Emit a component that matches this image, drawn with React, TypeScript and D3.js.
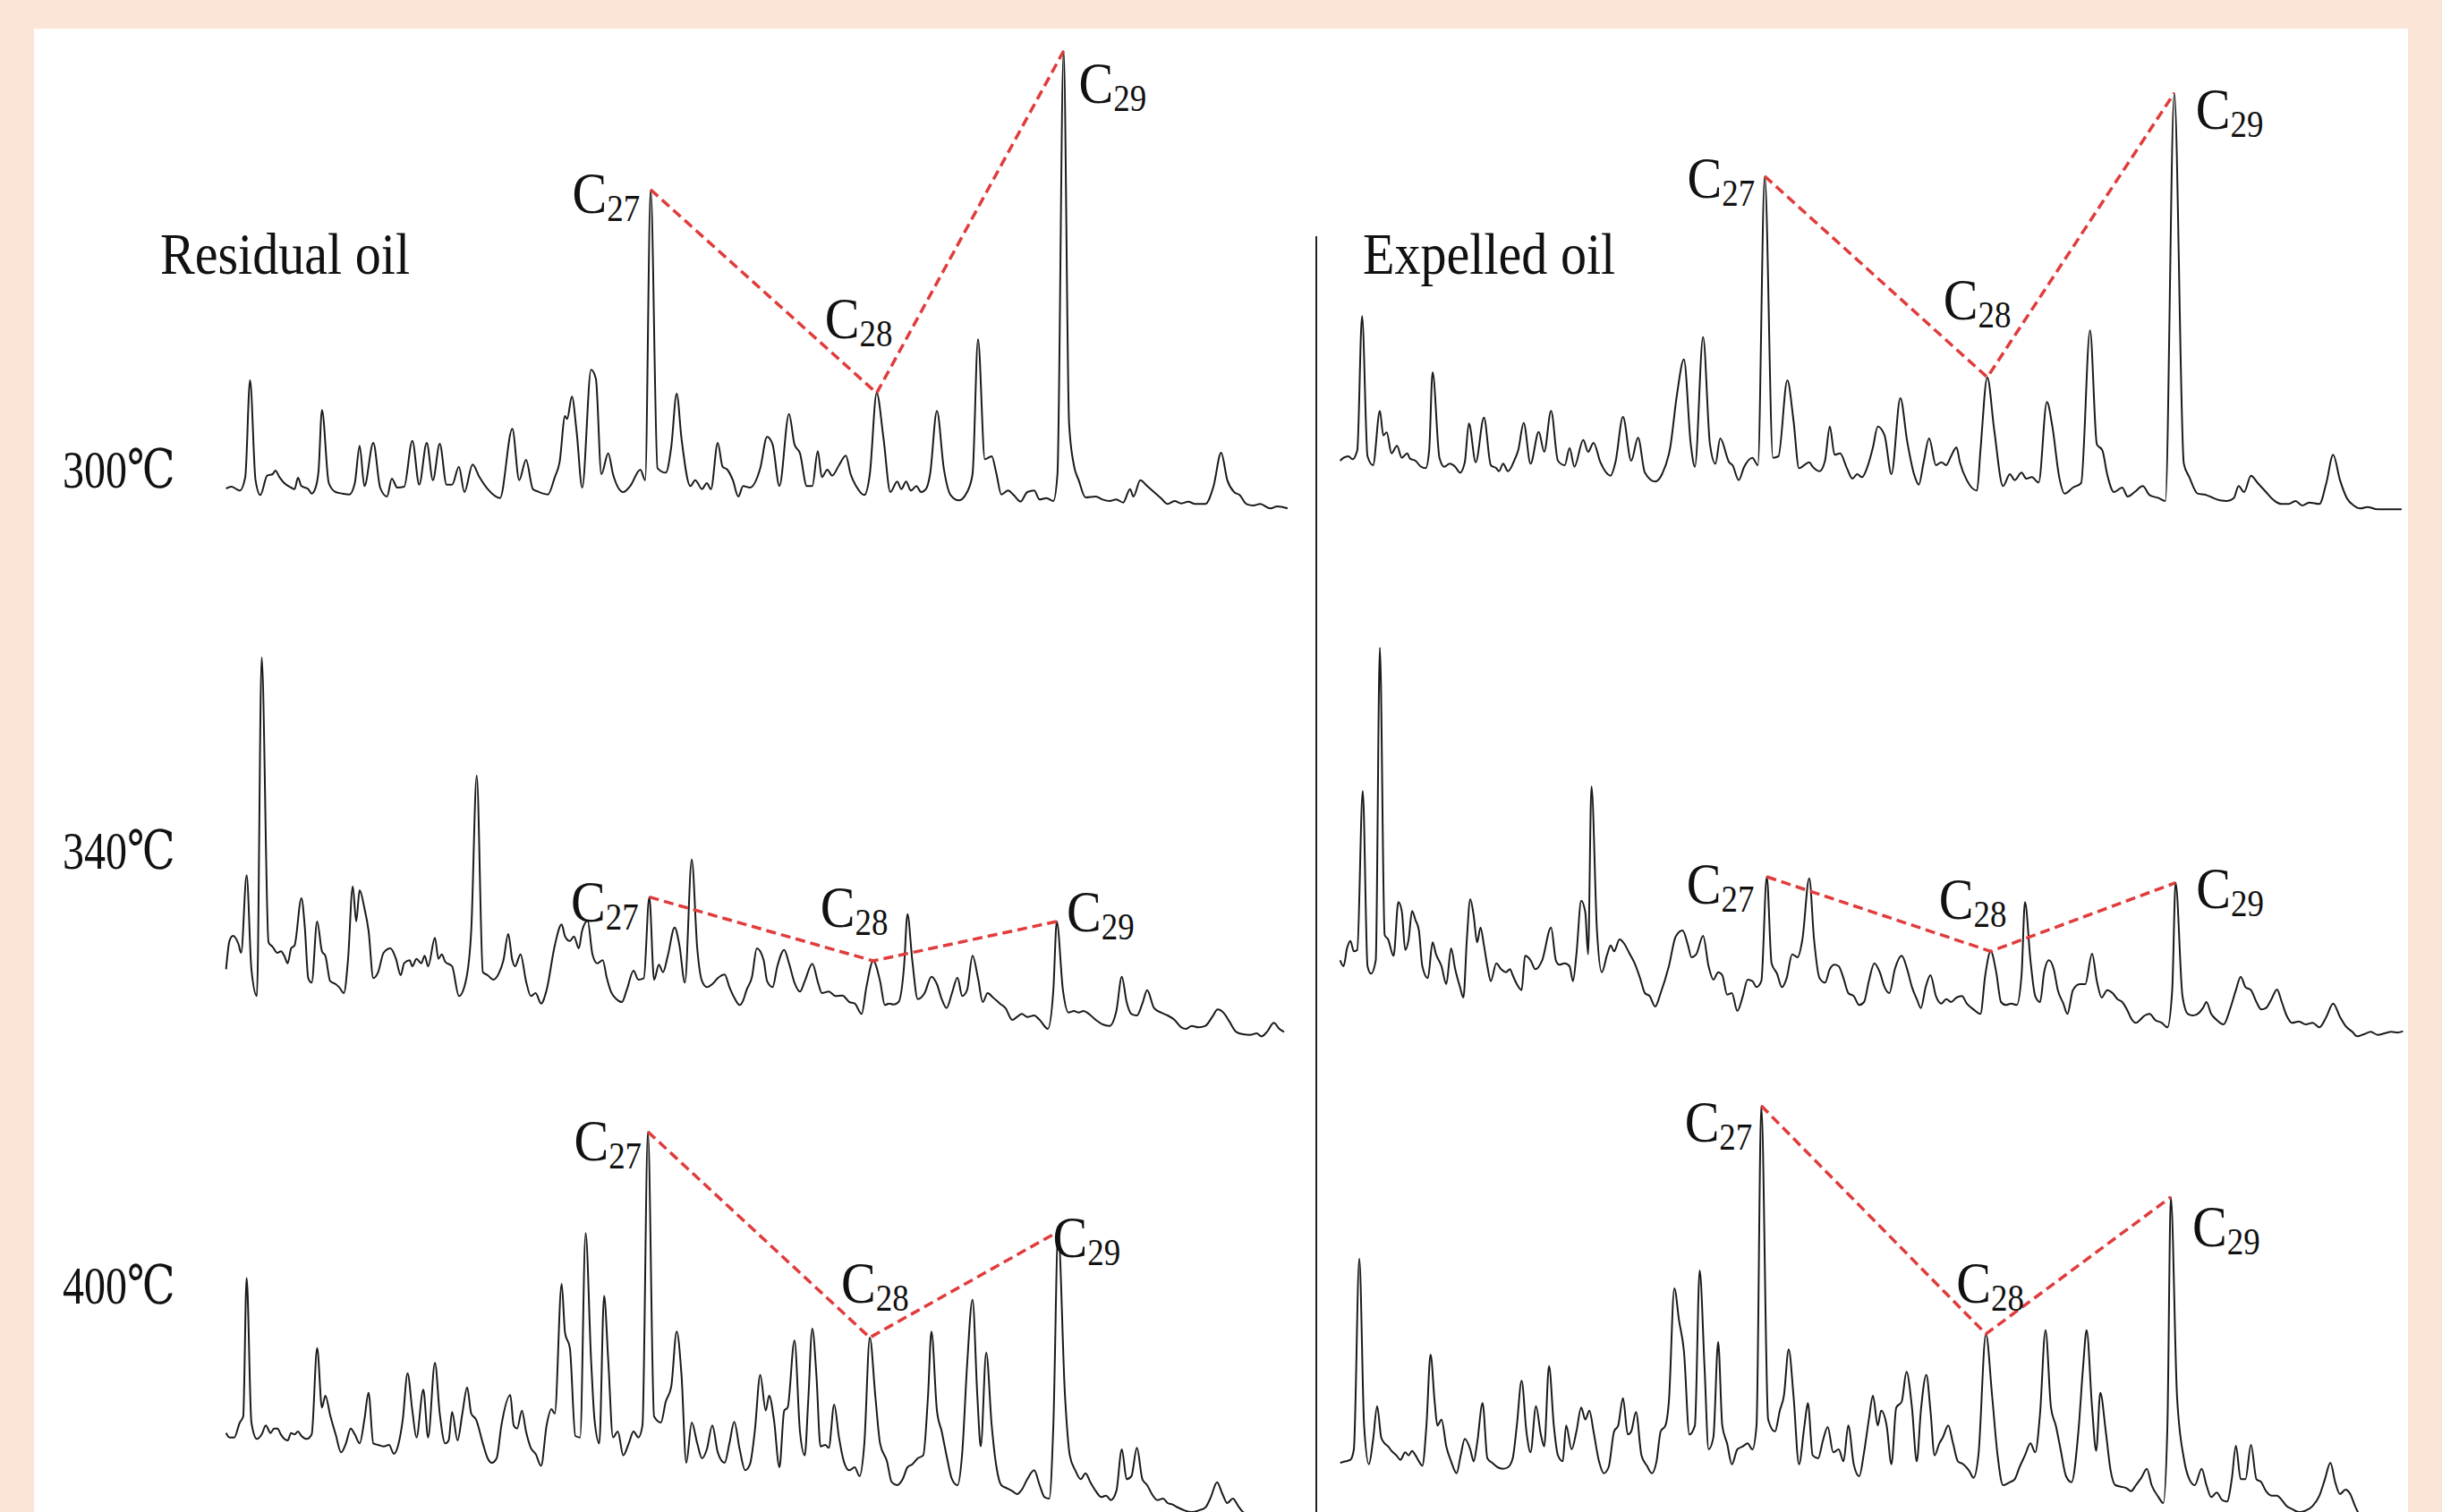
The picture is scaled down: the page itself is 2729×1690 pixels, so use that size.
import React, { useEffect } from 'react';
import * as d3 from 'd3';

type Pt = [number, number]; // [scan number, abundance]

// ---------- Chromatogram data (m/z 217 style traces) ----------
const residual300: Pt[] = [[10,102],[18,108],[25,100],[30,95],[38,140],[45,465],[53,130],[60,80],[70,145],[78,150],[82,162],[88,140],[95,120],[105,105],[110,100],[115,138],[120,110],[130,100],[135,85],[140,100],[145,160],[150,365],[160,120],[170,90],[180,85],[190,82],[198,120],[205,245],[212,110],[225,255],[235,105],[245,75],[252,135],[260,105],[270,108],[282,262],[292,115],[303,255],[312,130],[322,252],[332,115],[340,115],[350,175],[358,90],[370,182],[380,140],[392,100],[410,70],[428,302],[438,130],[448,198],[458,100],[465,92],[480,82],[490,140],[497,190],[505,345],[508,335],[515,410],[522,290],[530,105],[543,500],[550,470],[558,150],[568,220],[575,150],[590,90],[600,110],[615,165],[622,130],[630,1104],[640,170],[652,155],[660,240],[668,420],[675,270],[688,110],[695,130],[705,100],[712,120],[718,100],[728,255],[735,175],[742,165],[750,130],[758,75],[765,110],[775,105],[790,170],[800,275],[808,250],[818,110],[832,352],[840,250],[848,220],[858,110],[866,110],[874,227],[880,140],[888,165],[895,145],[905,180],[915,212],[922,150],[930,110],[942,80],[950,150],[960,422],[970,270],[980,90],[990,125],[996,100],[1003,125],[1010,95],[1018,110],[1025,90],[1032,100],[1038,150],[1048,362],[1058,170],[1068,80],[1080,62],[1092,90],[1100,150],[1108,602],[1118,200],[1128,210],[1135,150],[1142,82],[1152,95],[1160,80],[1170,58],[1180,90],[1190,95],[1198,65],[1208,70],[1218,60],[1224,150],[1233,1569],[1241,320],[1248,180],[1255,130],[1265,72],[1280,75],[1290,65],[1300,60],[1310,65],[1320,55],[1330,100],[1335,75],[1345,130],[1355,110],[1365,90],[1375,70],[1385,50],[1395,60],[1405,52],[1415,58],[1425,50],[1440,50],[1452,110],[1463,222],[1472,130],[1482,90],[1490,80],[1500,50],[1510,45],[1520,50],[1535,35],[1545,42],[1560,35]];

const expelled300: Pt[] = [[10,195],[15,205],[22,210],[28,200],[35,230],[42,680],[50,210],[58,180],[68,362],[73,280],[78,290],[85,220],[93,245],[100,205],[108,220],[112,202],[120,195],[128,175],[135,170],[140,230],[145,492],[155,205],[162,175],[170,185],[178,175],[185,155],[192,190],[198,320],[208,190],[220,340],[230,180],[238,170],[242,160],[248,185],[255,160],[265,200],[270,230],[278,322],[288,185],[300,292],[308,225],[318,362],[328,195],[338,180],[345,238],[352,175],[365,265],[372,225],[380,255],[390,190],[405,145],[412,190],[423,342],[435,195],[445,272],[455,155],[470,125],[480,150],[492,240],[502,420],[512,535],[522,250],[528,175],[540,610],[550,250],[558,185],[565,270],[578,190],[583,180],[592,130],[600,175],[612,205],[620,180],[630,1149],[642,205],[650,210],[663,465],[672,330],[680,170],[695,190],[700,175],[710,160],[718,195],[725,310],[732,215],[740,220],[750,170],[758,135],[765,150],[772,140],[780,175],[788,240],[795,310],[805,280],[815,150],[828,405],[838,260],[848,150],[855,115],[862,190],[870,270],[880,180],[888,190],[895,180],[902,210],[910,240],[915,190],[925,130],[940,95],[945,230],[955,475],[965,300],[978,110],[988,150],[995,130],[1005,155],[1012,135],[1020,140],[1030,122],[1042,392],[1050,310],[1060,140],[1068,85],[1080,105],[1092,120],[1105,632],[1115,250],[1123,230],[1130,150],[1140,90],[1152,105],[1160,75],[1170,90],[1182,110],[1192,80],[1205,70],[1215,60],[1228,1428],[1242,185],[1250,140],[1262,85],[1275,80],[1285,70],[1295,62],[1305,60],[1315,70],[1322,110],[1330,90],[1340,145],[1350,120],[1362,90],[1372,65],[1385,50],[1395,50],[1405,60],[1415,45],[1425,55],[1440,50],[1450,120],[1460,215],[1470,130],[1480,70],[1490,45],[1500,35],[1510,40],[1525,32],[1560,32]];

const residual340: Pt[] = [[10,260],[15,355],[20,372],[28,345],[32,315],[40,575],[47,260],[55,170],[62,1306],[72,350],[78,335],[85,315],[90,320],[95,305],[100,280],[105,330],[110,340],[120,498],[125,400],[130,230],[135,215],[143,420],[150,320],[155,305],[162,220],[170,210],[175,200],[182,180],[188,290],[195,538],[200,420],[205,525],[212,465],[218,390],[225,230],[232,250],[240,315],[250,330],[258,295],[265,240],[270,280],[278,290],[282,270],[288,295],[295,280],[300,305],[305,270],[315,365],[320,295],[325,310],[330,285],[340,270],[350,170],[360,220],[368,390],[376,910],[385,250],[392,240],[400,225],[408,245],[415,290],[422,378],[428,290],[432,270],[440,310],[448,220],[455,170],[462,180],[470,145],[478,190],[490,340],[500,410],[505,370],[512,355],[518,370],[525,330],[530,390],[538,422],[545,310],[552,280],[560,290],[566,230],[572,185],[580,160],[588,150],[595,190],[605,255],[612,225],[620,230],[628,502],[635,225],[642,275],[648,250],[655,305],[665,400],[672,340],[680,215],[690,628],[698,330],[705,220],[712,200],[720,210],[728,230],[738,242],[745,200],[752,165],[760,140],[765,155],[770,190],[778,235],[785,330],[795,290],[800,220],[808,200],[815,270],[825,325],[832,280],[840,215],[848,185],[855,220],[866,278],[875,210],[880,180],[890,185],[900,170],[910,172],[920,150],[928,145],[938,110],[945,200],[955,288],[965,220],[972,140],[978,145],[985,142],[992,150],[1000,270],[1005,445],[1012,290],[1020,160],[1030,180],[1040,235],[1048,210],[1055,160],[1062,130],[1070,180],[1078,232],[1085,170],[1092,190],[1100,305],[1108,230],[1115,150],[1122,180],[1130,165],[1140,145],[1148,130],[1158,90],[1165,100],[1172,110],[1180,100],[1190,105],[1198,90],[1210,60],[1218,190],[1223,420],[1232,190],[1240,115],[1248,120],[1255,115],[1262,120],[1270,110],[1280,90],[1290,75],[1300,70],[1310,120],[1318,235],[1325,150],[1332,110],[1340,105],[1348,145],[1355,190],[1365,130],[1375,115],[1385,105],[1395,90],[1405,65],[1412,60],[1420,70],[1430,65],[1440,70],[1450,100],[1458,125],[1468,110],[1475,85],[1485,50],[1495,42],[1505,40],[1515,45],[1522,35],[1530,50],[1540,80],[1548,60],[1555,50]];

const expelled340: Pt[] = [[10,290],[15,270],[20,330],[25,355],[30,320],[35,325],[43,858],[50,270],[55,245],[62,290],[68,1338],[75,375],[80,360],[88,305],[95,485],[100,455],[105,325],[110,360],[115,455],[120,425],[125,390],[130,270],[138,230],[145,350],[150,310],[158,270],[165,210],[172,330],[178,260],[185,200],[190,165],[195,360],[200,495],[205,440],[210,350],[215,400],[220,340],[225,270],[230,220],[238,280],[245,260],[252,250],[258,260],[262,240],[268,210],[275,190],[280,305],[288,290],[295,260],[305,290],[318,400],[325,290],[330,275],[338,280],[345,270],[350,220],[355,310],[362,490],[368,450],[372,310],[377,873],[385,390],[392,250],[400,310],[405,340],[410,320],[418,360],[425,345],[432,315],[440,280],[448,230],[455,180],[462,170],[470,135],[478,180],[490,270],[500,370],[510,390],[518,340],[523,300],[530,310],[540,372],[548,270],[555,225],[562,250],[568,240],[575,175],[582,180],[590,120],[598,170],[605,225],[612,220],[618,200],[625,220],[633,570],[640,280],[648,245],[655,200],[662,230],[670,310],[678,300],[685,360],[695,565],[702,360],[710,230],[718,215],[725,260],[732,275],[738,270],[745,230],[752,180],[760,170],[768,140],[775,150],[782,220],[790,280],[798,250],[805,200],[812,180],[820,260],[830,305],[838,260],[845,200],[852,160],[858,130],[865,200],[872,240],[880,170],[888,145],[895,160],[902,150],[910,165],[918,170],[925,145],[935,125],[945,110],[952,240],[960,320],[968,250],[975,150],[982,140],[990,145],[998,140],[1005,240],[1010,485],[1018,290],[1025,170],[1032,150],[1038,250],[1045,290],[1052,260],[1058,190],[1066,145],[1072,110],[1080,190],[1090,210],[1098,210],[1108,312],[1115,220],[1122,165],[1130,190],[1138,180],[1145,160],[1152,150],[1160,120],[1165,95],[1172,80],[1178,90],[1185,105],[1192,110],[1200,90],[1210,80],[1218,65],[1225,190],[1230,550],[1240,170],[1248,110],[1255,105],[1262,110],[1270,130],[1275,150],[1282,110],[1290,90],[1300,75],[1310,130],[1318,190],[1325,235],[1332,200],[1340,190],[1348,150],[1355,125],[1362,130],[1370,160],[1378,192],[1385,150],[1392,105],[1400,80],[1410,85],[1420,75],[1430,80],[1440,65],[1450,100],[1460,145],[1470,100],[1478,70],[1488,50],[1495,35],[1505,42],[1515,50],[1525,40],[1535,45],[1545,50],[1555,48],[1562,52]];

const residual400: Pt[] = [[10,265],[15,250],[22,250],[30,300],[35,320],[40,785],[47,300],[55,245],[62,260],[68,290],[75,265],[80,280],[85,280],[90,260],[95,245],[100,240],[105,265],[110,260],[115,270],[120,255],[128,245],[135,260],[143,550],[150,350],[155,390],[162,325],[170,260],[178,200],[185,230],[192,280],[198,260],[205,230],[212,310],[218,400],[225,230],[232,225],[240,220],[248,225],[255,195],[262,230],[268,310],[275,465],[282,340],[288,250],[298,410],[305,250],[315,500],[322,330],[330,230],[335,240],[340,335],[348,240],[355,330],[362,418],[368,330],[375,310],[385,230],[392,180],[398,165],[405,180],[412,290],[425,392],[430,290],[435,280],[442,340],[448,270],[455,215],[462,195],[470,155],[478,290],[485,345],[490,330],[500,765],[505,600],[512,550],[520,255],[527,250],[535,935],[543,510],[548,310],[555,230],[562,725],[568,510],[575,250],[582,270],[590,190],[598,230],[605,270],[612,250],[618,290],[626,1275],[635,320],[645,300],[652,370],[660,420],[668,605],[675,460],[682,165],[690,300],[698,230],[705,180],[712,210],[720,290],[728,200],[738,165],[745,230],[752,302],[760,210],[768,140],[775,160],[782,270],[790,460],[798,340],[803,390],[810,310],[818,150],[825,340],[830,350],[840,575],[848,270],[855,190],[860,370],[866,615],[872,460],[878,220],[885,225],[890,215],[898,360],[905,250],[912,170],[920,140],[928,150],[935,120],[942,230],[950,585],[958,390],[965,230],[975,170],[982,100],[990,90],[998,110],[1005,150],[1012,160],[1020,180],[1028,190],[1035,390],[1040,605],[1048,340],[1055,270],[1062,190],[1070,110],[1078,90],[1085,200],[1092,490],[1100,712],[1107,390],[1112,220],[1120,535],[1128,290],[1135,150],[1142,90],[1150,80],[1158,70],[1165,60],[1172,75],[1180,110],[1190,140],[1198,90],[1205,50],[1212,45],[1218,290],[1225,940],[1235,390],[1242,190],[1250,140],[1258,110],[1265,130],[1272,100],[1280,70],[1288,50],[1295,55],[1302,40],[1310,70],[1318,210],[1325,110],[1332,120],[1340,215],[1348,110],[1355,90],[1362,60],[1370,40],[1378,45],[1385,30],[1392,25],[1400,15],[1410,5],[1420,0],[1430,5],[1440,15],[1448,50],[1457,100],[1465,60],[1472,30],[1480,45],[1488,20],[1495,0],[1510,-10],[1530,-20],[1545,-10],[1560,-15]];

const expelled400: Pt[] = [[10,165],[18,170],[25,175],[30,210],[38,850],[45,290],[52,160],[58,240],[64,355],[70,250],[75,230],[80,220],[85,205],[92,190],[98,175],[105,200],[110,190],[115,205],[120,190],[125,170],[130,155],[136,290],[142,528],[148,370],[152,290],[158,310],[165,220],[172,170],[180,130],[186,190],[192,245],[200,210],[205,170],[210,230],[218,365],[225,180],[232,165],[240,150],[248,145],[255,150],[262,180],[268,290],[275,440],[282,270],[288,200],[296,355],[303,260],[308,220],[315,490],[322,290],[328,190],[335,170],[340,290],[348,210],[355,270],[362,350],[368,310],[374,340],[380,270],[388,170],[395,130],[402,150],[410,270],[416,290],[423,382],[430,260],[435,270],[442,335],[450,190],[458,155],[465,130],[472,170],[478,270],[485,290],[490,370],[498,750],[505,640],[512,540],[520,260],[528,290],[535,810],[542,490],[548,210],[555,250],[562,570],[568,290],[575,230],[582,160],[590,210],[598,220],[605,230],[612,210],[618,290],[625,1362],[635,310],[645,270],[652,340],[658,390],[665,545],[672,390],[680,160],[688,290],[693,365],[700,190],[708,180],[715,240],[722,285],[730,200],[738,210],[745,170],[752,290],[760,160],[768,120],[775,200],[782,310],[788,390],[795,290],[800,340],[808,290],[815,160],[822,350],[830,370],[837,470],[845,350],[852,170],[858,340],[866,460],[872,340],[878,190],[885,230],[890,250],[898,290],[905,230],[912,170],[920,160],[928,140],[935,115],[942,190],[953,597],[962,390],[970,190],[978,90],[988,100],[995,110],[1002,150],[1010,190],[1018,230],[1025,200],[1032,330],[1040,610],[1048,350],[1055,290],[1062,210],[1070,120],[1078,100],[1088,270],[1095,490],[1100,610],[1108,350],[1114,205],[1120,400],[1128,270],[1135,140],[1142,90],[1150,85],[1158,80],[1165,70],[1172,90],[1180,115],[1188,145],[1195,90],[1205,50],[1212,30],[1218,290],[1223,1056],[1232,390],[1242,180],[1250,110],[1258,90],[1268,145],[1275,90],[1282,50],[1290,65],[1298,40],[1305,35],[1312,110],[1318,222],[1325,110],[1332,110],[1340,225],[1348,110],[1355,100],[1362,70],[1370,55],[1378,55],[1385,40],[1392,20],[1400,10],[1410,0],[1420,5],[1430,20],[1440,55],[1448,110],[1456,165],[1463,100],[1470,60],[1478,75],[1485,60],[1492,20],[1500,-10],[1530,-10],[1560,-10]];

// scan numbers of the C27, C28 and C29 sterane peaks in each trace
const residual300Peaks = [630, 960, 1233];
const expelled300Peaks = [630, 955, 1228];
const residual340Peaks = [628, 955, 1223];
const expelled340Peaks = [633, 960, 1230];
const residual400Peaks = [626, 950, 1225];
const expelled400Peaks = [625, 953, 1223];

const temperatures = ['300℃', '340℃', '400℃'];
const panelTitles = ['Residual oil', 'Expelled oil'];
const steraneNumbers = ['27', '28', '29'];

// ---------- Layout ----------
const W = 2729;
const H = 1690;
const SCAN_MAX = 1568;
const panelRange: [number, number][] = [[245, 1445], [1490, 2690]];
const rowBase = [580, 1170, 1690];
const FONT = "'Liberation Serif', 'Times New Roman', 'DejaVu Serif', serif";
const SQUEEZE = 0.88;

type LabelPos = [string, number, number]; // anchor, dx, dy relative to the peak apex

const traces: { data: Pt[]; peaks: number[]; panel: number; row: number; labels: LabelPos[] }[] = [
  { data: residual300, peaks: residual300Peaks, panel: 0, row: 0, labels: [['end', -12, 26], ['start', -58, -61], ['start', 17, 58]] },
  { data: expelled300, peaks: expelled300Peaks, panel: 1, row: 0, labels: [['end', -11, 24], ['start', -49, -65], ['start', 24, 40]] },
  { data: residual340, peaks: residual340Peaks, panel: 0, row: 1, labels: [['end', -12, 27], ['start', -59, -38], ['start', 11, 11]] },
  { data: expelled340, peaks: expelled340Peaks, panel: 1, row: 1, labels: [['end', -14, 30], ['start', -58, -36], ['start', 23, 28]] },
  { data: residual400, peaks: residual400Peaks, panel: 0, row: 2, labels: [['end', -7, 32], ['start', -32, -39], ['start', -6, 28]] },
  { data: expelled400, peaks: expelled400Peaks, panel: 1, row: 2, labels: [['end', -10, 40], ['start', -33, -35], ['start', 24, 55]] },
];

const titlePos: [number, number][] = [[179, 306], [1523, 306]];
const tempPos: [number, number][] = [[70, 545], [70, 971], [70, 1457]];

function SqText(props: { x: number; y: number; size: number; anchor?: string; sx?: number; children: React.ReactNode }) {
  return (
    <g transform={`translate(${props.x},${props.y}) scale(${props.sx ?? SQUEEZE},1)`}>
      <text x={0} y={0} fontFamily={FONT} fontSize={props.size} fill="#111" textAnchor={props.anchor || 'start'}>
        {props.children}
      </text>
    </g>
  );
}

export default function App() {
  useEffect(() => {
    document.body.style.margin = '0';
    document.body.style.overflow = 'hidden';
  }, []);

  const xScales = panelRange.map((r) => d3.scaleLinear().domain([0, SCAN_MAX]).range(r));
  const yScales = rowBase.map((b) => d3.scaleLinear().domain([0, 300]).range([b, b - 100]));

  return (
    <svg width={W} height={H} style={{ display: 'block' }}>
      <rect x={0} y={0} width={W} height={H} fill="#FBE5D6" />
      <rect x={38} y={32} width={2653} height={H} fill="#ffffff" />
      <line x1={1471} x2={1471} y1={264} y2={H} stroke="#222" strokeWidth={2} />

      {panelTitles.map((t, i) => (
        <SqText key={t} x={titlePos[i][0]} y={titlePos[i][1]} size={66}>{t}</SqText>
      ))}
      {temperatures.map((t, i) => (
        <SqText key={t} x={tempPos[i][0]} y={tempPos[i][1]} size={60} sx={0.8}>{t}</SqText>
      ))}

      {traces.map((tr, ti) => {
        const xs = xScales[tr.panel];
        const ys = yScales[tr.row];
        const sorted = [...tr.data].sort((a, b) => a[0] - b[0]);
        const line = d3
          .line<Pt>()
          .x((d) => xs(d[0]))
          .y((d) => ys(d[1]))
          .curve(d3.curveMonotoneX);
        const apex: Pt[] = tr.peaks.map((s) => {
          const p = sorted.find((d) => d[0] === s) || sorted[d3.minIndex(sorted, (d) => Math.abs(d[0] - s))];
          return p;
        });
        const dash = d3
          .line<Pt>()
          .x((d) => xs(d[0]))
          .y((d) => ys(d[1]));
        return (
          <g key={ti}>
            <path d={line(sorted) || ''} fill="none" stroke="#1a1a1a" strokeWidth={2} strokeLinejoin="round" />
            <path d={dash(apex) || ''} fill="none" stroke="#e03c3c" strokeWidth={3.5} strokeDasharray="11,6" />
            {apex.map((p, k) => {
              const [anchor, dx, dy] = tr.labels[k];
              return (
                <SqText key={k} x={xs(p[0]) + dx} y={ys(p[1]) + dy} size={66} anchor={anchor}>
                  C<tspan fontSize={42} dy={9}>{steraneNumbers[k]}</tspan>
                </SqText>
              );
            })}
          </g>
        );
      })}
    </svg>
  );
}
